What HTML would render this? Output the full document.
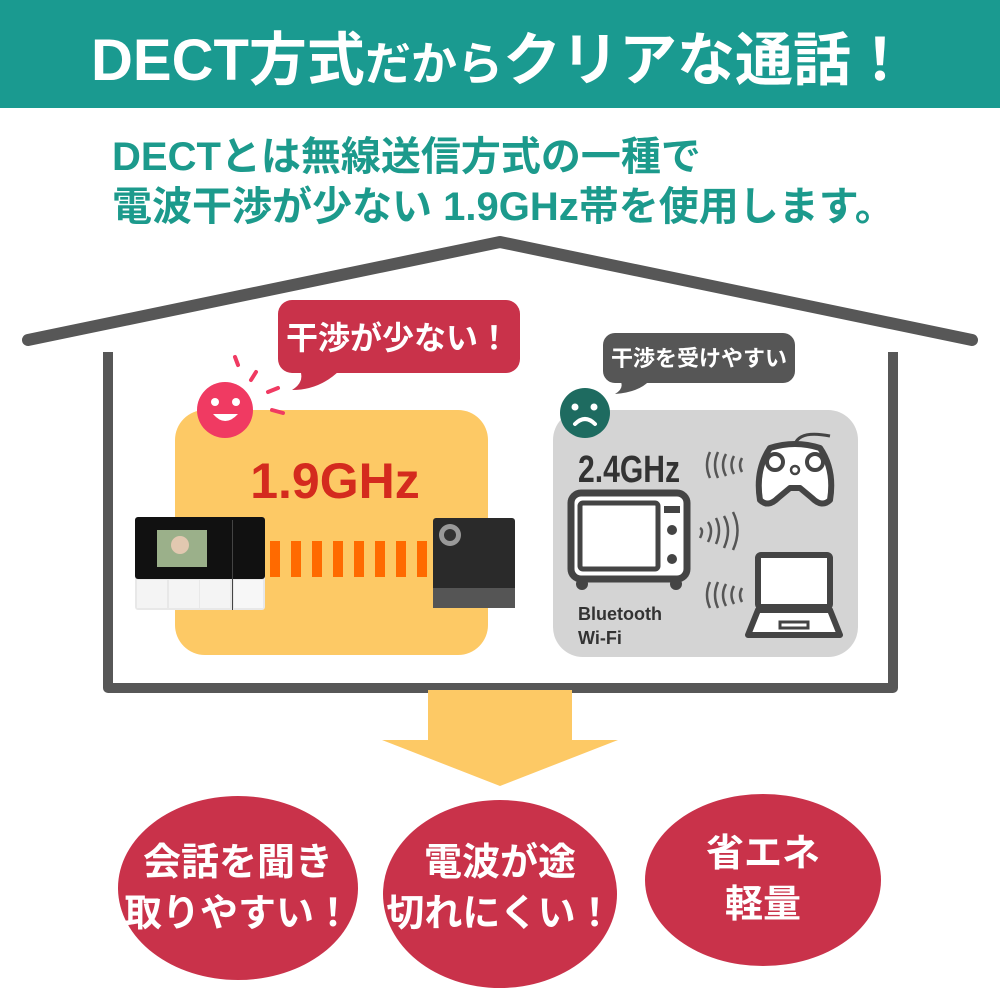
<!DOCTYPE html>
<html><head><meta charset="utf-8"><style>
html,body{margin:0;padding:0;background:#fff;}
svg text{font-family:"Liberation Sans","Noto Sans CJK JP",sans-serif;font-weight:bold;}
</style></head><body>
<svg width="1000" height="1000" viewBox="0 0 1000 1000" xmlns="http://www.w3.org/2000/svg">
<rect x="0" y="0" width="1000" height="108" fill="#1a9a90"/>
<text x="500" y="80" font-size="58" fill="#fff" text-anchor="middle">DECT方式<tspan font-size="46">だから</tspan>クリアな通話！</text>
<text x="112" y="170" font-size="40" fill="#1c9a8c">DECTとは無線送信方式の一種で</text>
<text x="112" y="220" font-size="40" fill="#1c9a8c">電波干渉が少ない 1.9GHz帯を使用します。</text>
<polyline points="28,340 500,242 972,340" fill="none" stroke="#575757" stroke-width="12" stroke-linecap="round" stroke-linejoin="round"/>
<polyline points="108,352 108,688 893,688 893,352" fill="none" stroke="#575757" stroke-width="10" stroke-linejoin="round"/>
<rect x="175" y="410" width="313" height="245" rx="30" fill="#fdc965"/>
<rect x="278" y="300" width="242" height="73" rx="14" fill="#c9324a"/>
<path d="M300,370 L340,370 Q320,390 292,390 Q305,382 300,370 Z" fill="#c9324a"/>
<text x="398" y="349" font-size="32" fill="#fff" text-anchor="middle">干渉が少ない！</text>
<circle cx="225" cy="410" r="28" fill="#f03a62"/>
<circle cx="215" cy="402" r="4" fill="#fff"/><circle cx="236" cy="402" r="4" fill="#fff"/>
<path d="M213,414 Q225,428 238,414 Z" fill="#fff"/>
<g stroke="#f03a62" stroke-width="4" stroke-linecap="round">
<line x1="235" y1="357" x2="238" y2="365"/><line x1="256" y1="372" x2="251" y2="380"/><line x1="278" y1="388" x2="268" y2="392"/><line x1="272" y1="410" x2="283" y2="413"/></g>
<text x="335" y="498" font-size="50" fill="#d42a1e" text-anchor="middle">1.9GHz</text>
<g fill="#ff6a00">
<rect x="270" y="541" width="10" height="36"/><rect x="291" y="541" width="10" height="36"/><rect x="312" y="541" width="10" height="36"/><rect x="333" y="541" width="10" height="36"/><rect x="354" y="541" width="10" height="36"/><rect x="375" y="541" width="10" height="36"/><rect x="396" y="541" width="10" height="36"/><rect x="417" y="541" width="10" height="36"/></g>
<rect x="135" y="517" width="130" height="93" rx="3" fill="#e8e8e8"/>
<rect x="135" y="517" width="130" height="62" rx="3" fill="#111"/>
<rect x="157" y="530" width="50" height="37" fill="#9bb08a"/>
<circle cx="180" cy="545" r="9" fill="#e2c8b0"/>
<rect x="232" y="520" width="1" height="90" fill="#444"/>
<rect x="137" y="580" width="30" height="28" fill="#f4f4f4"/><rect x="169" y="580" width="30" height="28" fill="#f4f4f4"/><rect x="200" y="580" width="30" height="28" fill="#f4f4f4"/><rect x="234" y="580" width="29" height="28" fill="#f7f7f7"/>
<rect x="433" y="518" width="82" height="90" rx="3" fill="#2a2a2a"/>
<rect x="433" y="588" width="82" height="20" fill="#555"/>
<circle cx="450" cy="535" r="11" fill="#999"/><circle cx="450" cy="535" r="6" fill="#333"/>
<rect x="553" y="410" width="305" height="247" rx="30" fill="#d4d4d4"/>
<rect x="603" y="333" width="192" height="50" rx="12" fill="#565656"/>
<path d="M620,380 L650,380 Q640,392 615,394 Q625,388 620,380 Z" fill="#565656"/>
<text x="699" y="366" font-size="22" fill="#fff" text-anchor="middle">干渉を受けやすい</text>
<circle cx="585" cy="413" r="25" fill="#1e6b60"/>
<circle cx="575" cy="407" r="3.5" fill="#fff"/><circle cx="594" cy="407" r="3.5" fill="#fff"/>
<path d="M575,424 Q585,414 595,424" fill="none" stroke="#fff" stroke-width="4" stroke-linecap="round"/>
<text x="578" y="482" font-size="38" fill="#333" textLength="102" lengthAdjust="spacingAndGlyphs">2.4GHz</text>
<rect x="571" y="493" width="116" height="86" rx="10" fill="#fff" stroke="#444" stroke-width="7"/>
<rect x="580" y="503" width="78" height="66" rx="3" fill="#fff" stroke="#444" stroke-width="5"/>
<rect x="664" y="506" width="16" height="7" fill="#444"/>
<circle cx="672" cy="530" r="5" fill="#444"/><circle cx="672" cy="559" r="5" fill="#444"/>
<circle cx="582" cy="584" r="6" fill="#444"/><circle cx="676" cy="584" r="6" fill="#444"/>
<text x="578" y="620" font-size="18" fill="#333">Bluetooth</text>
<text x="578" y="644" font-size="18" fill="#333">Wi-Fi</text>
<g fill="none" stroke="#555" stroke-width="2.5">
<path d="M710,452 Q704,465 710,478"/><path d="M718,452 Q712,465 718,478"/><path d="M726,454 Q720,465 726,476"/><path d="M734,456 Q729,465 734,474"/><path d="M742,458 Q738,465 742,472"/>
<path d="M700,528 Q704,530 700,538"/><path d="M708,522 Q714,530 708,542"/><path d="M716,518 Q722,530 716,544"/><path d="M724,516 Q732,530 724,548"/><path d="M733,512 Q742,530 733,550"/>
<path d="M710,582 Q704,595 710,608"/><path d="M718,582 Q712,595 718,608"/><path d="M726,584 Q720,595 726,606"/><path d="M734,586 Q729,595 734,604"/><path d="M742,588 Q738,595 742,602"/></g>
<path d="M770,448 Q795,440 820,448 Q835,470 830,500 Q822,508 812,498 L800,488 L790,488 L778,498 Q768,508 760,500 Q755,470 770,448 Z" fill="#fff" stroke="#444" stroke-width="6" stroke-linejoin="round"/>
<circle cx="775" cy="462" r="8" fill="none" stroke="#444" stroke-width="4"/><circle cx="815" cy="462" r="8" fill="none" stroke="#444" stroke-width="4"/>
<circle cx="795" cy="470" r="4" fill="none" stroke="#444" stroke-width="2.5"/>
<path d="M795,444 Q800,430 830,436" fill="none" stroke="#444" stroke-width="3"/>
<rect x="758" y="555" width="72" height="52" rx="3" fill="#fff" stroke="#444" stroke-width="6"/>
<path d="M758,610 L830,610 L840,635 L748,635 Z" fill="#fff" stroke="#444" stroke-width="6" stroke-linejoin="round"/>
<rect x="780" y="622" width="28" height="6" fill="none" stroke="#444" stroke-width="3"/>
<rect x="428" y="690" width="144" height="52" fill="#fdc965"/>
<polygon points="382,740 618,740 500,786" fill="#fdc965"/>
<ellipse cx="238" cy="888" rx="120" ry="92" fill="#c9324a"/>
<ellipse cx="500" cy="894" rx="117" ry="94" fill="#c9324a"/>
<ellipse cx="763" cy="880" rx="118" ry="86" fill="#c9324a"/>
<g font-size="38" fill="#fff" text-anchor="middle">
<text x="238" y="875">会話を聞き</text><text x="238" y="926">取りやすい！</text>
<text x="500" y="875">電波が途</text><text x="500" y="926">切れにくい！</text>
<text x="763" y="866">省エネ</text><text x="763" y="917">軽量</text></g>
</svg>
</body></html>
